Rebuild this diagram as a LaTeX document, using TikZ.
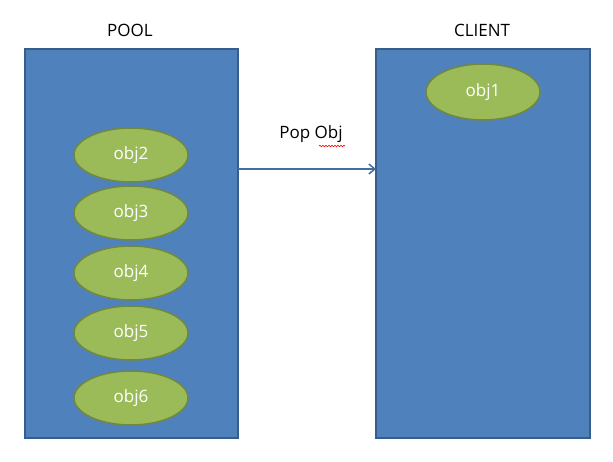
\documentclass[tikz,border=0pt]{standalone}
\usepackage{fontspec}
\setmainfont{Open Sans}
\usetikzlibrary{shapes.geometric,arrows.meta,decorations.pathmorphing}
\definecolor{boxblue}{HTML}{4F81BD}
\definecolor{boxedge}{HTML}{385D8A}
\definecolor{objgreen}{HTML}{9BBB59}
\definecolor{objedge}{HTML}{71893F}
\begin{document}
\begin{tikzpicture}[x=1pt,y=-1pt,
  box/.style={draw=boxedge,line width=1.5pt,fill=boxblue},
  obj/.style={ellipse,draw=objedge,line width=1.5pt,fill=objgreen,minimum width=114pt,minimum height=54pt,inner sep=0pt,text=white,font=\fontsize{17}{20}\selectfont},
  lbl/.style={font=\fontsize{17}{20}\selectfont}]
\useasboundingbox (0,0) rectangle (613,461);
\filldraw[box] (25,49) rectangle (238,438);
\filldraw[box] (376,49) rectangle (590,438);
\node[lbl] (pl) at (130,30) {POOL};
\node[lbl] (cl) at (482,30) {CLIENT};
\node[obj] (o2) at (131,155) {obj2};
\node[obj] (o3) at (131,213) {obj3};
\node[obj] (o4) at (131,273) {obj4};
\node[obj] (o5) at (131,333) {obj5};
\node[obj] (o6) at (131,398) {obj6};
\node[obj,minimum height=56pt] (o1) at (483,92) {obj1};
\coordinate (a) at (238,169);
\coordinate (b) at (376,169);
\draw[boxblue!85!black,line width=1.5pt,-{Straight Barb[length=6pt,width=10pt]}] (a) -- (b);
\node[lbl] (pop) at (311,134) {Pop Obj};
\draw[red,line width=0.6pt,decorate,decoration={snake,amplitude=0.8pt,segment length=3pt}] (319,146) -- (345,146);
\end{tikzpicture}
\end{document}
